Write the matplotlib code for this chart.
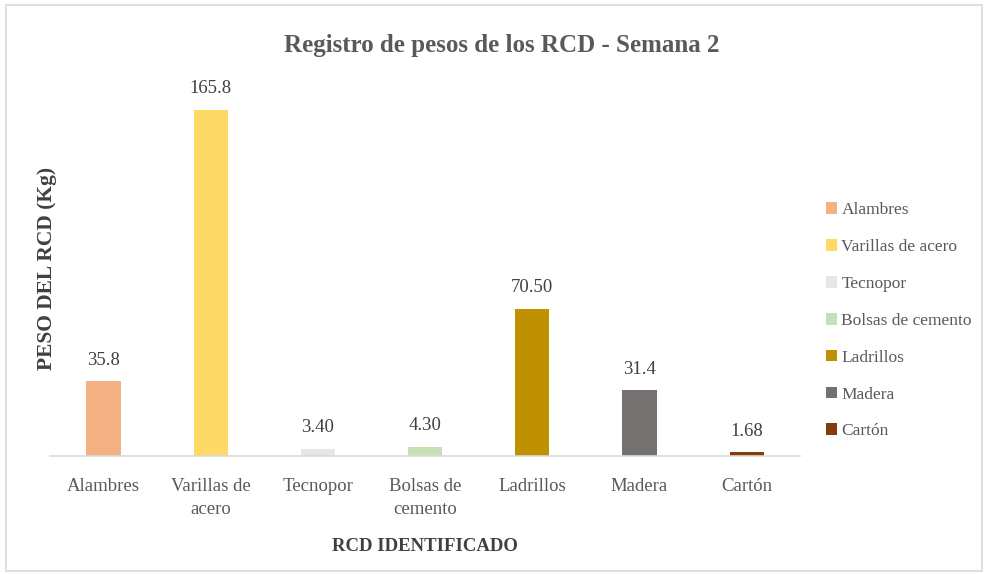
import matplotlib.pyplot as plt
from matplotlib.patches import Rectangle, Patch

# Data
categorias = ["Alambres", "Varillas de\nacero", "Tecnopor", "Bolsas de\ncemento",
              "Ladrillos", "Madera", "Cartón"]
leyenda = ["Alambres", "Varillas de acero", "Tecnopor", "Bolsas de cemento",
           "Ladrillos", "Madera", "Cartón"]
pesos = [35.8, 165.8, 3.40, 4.30, 70.50, 31.4, 1.68]
etiquetas = ["35.8", "165.8", "3.40", "4.30", "70.50", "31.4", "1.68"]
colores = ["#F4B183", "#FFD966", "#E7E6E6", "#C5E0B4", "#BF9000", "#767171", "#843C0C"]

plt.rcParams['font.family'] = ['Liberation Serif', 'DejaVu Serif']

fig = plt.figure(figsize=(9.88, 5.74), dpi=100)
ax = fig.add_axes([0.0506, 0.2056, 0.7594, 0.655])

x = range(len(pesos))
bars = ax.bar(x, pesos, width=0.32, color=colores)
for b, t in zip(bars, etiquetas):
    ax.text(b.get_x() + b.get_width() / 2, b.get_height() + 6, t,
            ha='center', va='bottom', fontsize=13.5, color='#404040')

ax.set_xlim(-0.5, len(pesos) - 0.5)
ax.set_ylim(0, 180)
ax.set_yticks([])
ax.set_xticks(list(x))
ax.set_xticklabels(categorias, fontsize=13.5, color='#595959', linespacing=1.45)
ax.tick_params(axis='x', length=0, pad=16)
for s in ['top', 'right', 'left']:
    ax.spines[s].set_visible(False)
ax.spines['bottom'].set_color('#D9D9D9')
ax.spines['bottom'].set_linewidth(1.2)

ax.set_xlabel("RCD IDENTIFICADO", fontsize=13.5, fontweight='bold', color='#404040', labelpad=14)
ax.set_ylabel("PESO DEL RCD (Kg)", fontsize=15.5, fontweight='bold', color='#404040', labelpad=-5)

fig.text(0.508, 0.92, "Registro de pesos de los RCD - Semana 2", ha='center', va='center',
         fontsize=18, fontweight='bold', color='#595959')

handles = [Patch(facecolor=c) for c in colores]
fig.legend(handles, leyenda, loc='center left', bbox_to_anchor=(0.82, 0.441),
           frameon=False, fontsize=12.5, handlelength=0.65, handleheight=0.65,
           handletextpad=0.25, labelspacing=1.2, labelcolor='#595959')

fig.patches.append(Rectangle((0.006, 0.006), 0.988, 0.985, transform=fig.transFigure,
                             fill=False, edgecolor='#D9D9D9', linewidth=1.2))

fig.savefig("out.png", dpi=100)
